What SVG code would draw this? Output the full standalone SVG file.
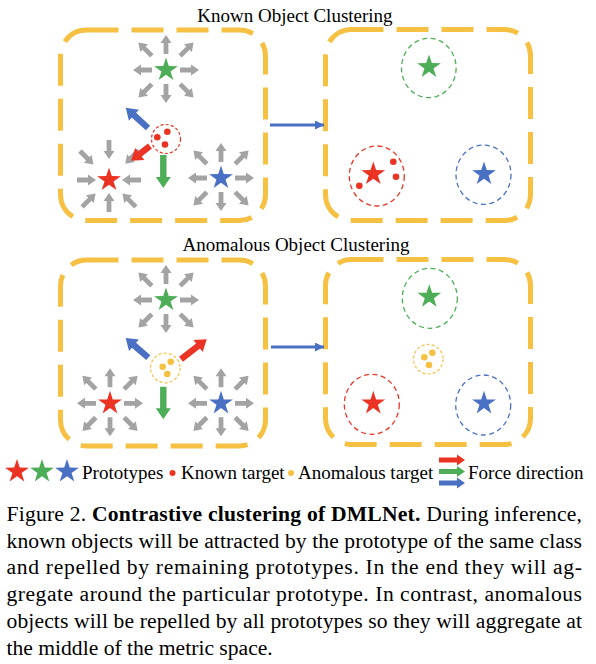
<svg xmlns="http://www.w3.org/2000/svg" xmlns:xlink="http://www.w3.org/1999/xlink" width="596" height="664" viewBox="0 0 596 664">
<style>
.t{font-family:"Liberation Serif","Times New Roman",serif;fill:#000}
.panel{fill:none;stroke:#F6C143;stroke-width:5;stroke-dasharray:32 13}
.ring{fill:none;stroke-width:1.3;stroke-dasharray:5 3.5}
.small{fill:none;stroke-width:1.2;stroke-dasharray:3 2.2}
.r{fill:#EA3323}.g{fill:#4DAE57}.b{fill:#4A70C4}.y{fill:#F6C143}
</style>
<defs>
<path id="star" d="M0,-12.5 L2.81,-3.88 L11.89,-3.86 L4.55,1.48 L7.35,10.11 L0,4.79 L-7.35,10.11 L-4.55,1.48 L-11.89,-3.86 L-2.81,-3.88 Z"/>
<path id="ga" d="M0,-2.4 H11 V-5.5 L19,0 L11,5.5 V2.4 H0 Z" fill="#A3A3A3"/>
<g id="rays-out">
<use href="#ga" transform="rotate(0) translate(14,0)"/>
<use href="#ga" transform="rotate(90) translate(14,0)"/>
<use href="#ga" transform="rotate(180) translate(14,0)"/>
<use href="#ga" transform="rotate(270) translate(16,0)"/>
<use href="#ga" transform="rotate(45) translate(20,0)"/>
<use href="#ga" transform="rotate(135) translate(20,0)"/>
<use href="#ga" transform="rotate(225) translate(20,0)"/>
<use href="#ga" transform="rotate(315) translate(20,0)"/>
</g>
<g id="rays-in">
<use href="#ga" transform="rotate(0) translate(32,0) rotate(180)"/>
<use href="#ga" transform="rotate(90) translate(32,0) rotate(180)"/>
<use href="#ga" transform="rotate(180) translate(32,0) rotate(180)"/>
<use href="#ga" transform="rotate(270) translate(40,0) rotate(180)"/>
<use href="#ga" transform="rotate(45) translate(38,0) rotate(180)"/>
<use href="#ga" transform="rotate(135) translate(38,0) rotate(180)"/>
<use href="#ga" transform="rotate(225) translate(41,0) rotate(180)"/>
<use href="#ga" transform="rotate(315) translate(42,0) rotate(180)"/>
</g>
<marker id="ah" viewBox="0 0 10 10" refX="10" refY="5" markerWidth="9" markerHeight="9" markerUnits="userSpaceOnUse" orient="auto">
<path d="M0,0 L10,5 L0,10 Z" fill="#4A70C4"/>
</marker>
</defs>
<rect width="596" height="664" fill="#fff"/>

<text class="t" x="295" y="22" font-size="19" text-anchor="middle">Known Object Clustering</text>
<text class="t" x="296" y="251" font-size="19" text-anchor="middle">Anomalous Object Clustering</text>

<g id="known-before">
<rect class="panel" x="60.5" y="30" width="205" height="190.5" rx="26"/>
<use href="#rays-out" x="166" y="70"/>
<use href="#star" class="g" x="166" y="70"/>
<use href="#rays-in" x="109" y="180"/>
<use href="#star" class="r" x="109" y="180"/>
<use href="#rays-out" x="221" y="178"/>
<use href="#star" class="b" x="221" y="178"/>
<path class="b" transform="translate(148,128) rotate(-137.7)" d="M0,-3.2 H19 V-7.5 L30,0 L19,7.5 V3.2 H0 Z"/>
<path class="r" transform="translate(150,146) rotate(142)" d="M0,-3.2 H13 V-7.5 L24,0 L13,7.5 V3.2 H0 Z"/>
<path class="g" transform="translate(163.3,155) rotate(90)" d="M0,-3.2 H22 V-7.5 L33,0 L22,7.5 V3.2 H0 Z"/>
<circle class="small" cx="166" cy="139" r="14.5" stroke="#EA3323"/>
<circle class="r" cx="157.3" cy="137.3" r="3.3"/>
<circle class="r" cx="167.3" cy="131.7" r="3.3"/>
<circle class="r" cx="165" cy="144.5" r="3.3"/>
</g>

<g id="known-after">
<rect class="panel" x="325.5" y="29.5" width="205" height="191" rx="26"/>
<ellipse class="ring" cx="428.8" cy="68" rx="27.3" ry="29.7" stroke="#4DAE57"/>
<use href="#star" class="g" x="429" y="67"/>
<ellipse class="ring" cx="376.8" cy="176" rx="27.5" ry="30" stroke="#EA3323"/>
<use href="#star" class="r" x="373.3" y="174"/>
<circle class="r" cx="393.3" cy="161.7" r="3.3"/>
<circle class="r" cx="396" cy="176.7" r="3.3"/>
<circle class="r" cx="359.3" cy="185.7" r="3.3"/>
<ellipse class="ring" cx="483.5" cy="174.7" rx="27.5" ry="29.7" stroke="#4A70C4"/>
<use href="#star" class="b" x="484" y="174"/>
</g>

<g id="anomalous-before">
<rect class="panel" x="60.5" y="260" width="205" height="186" rx="26"/>
<use href="#rays-out" x="166" y="300"/>
<use href="#star" class="g" x="166" y="300"/>
<use href="#rays-out" x="110" y="403.3"/>
<use href="#star" class="r" x="110" y="403.3"/>
<use href="#rays-out" x="221" y="403.3"/>
<use href="#star" class="b" x="221" y="403.3"/>
<path class="b" transform="translate(148.3,357.7) rotate(-139)" d="M0,-3.2 H19 V-7.5 L30,0 L19,7.5 V3.2 H0 Z"/>
<path class="r" transform="translate(181,359.3) rotate(-37.9)" d="M0,-3.2 H21.6 V-7.5 L32.6,0 L21.6,7.5 V3.2 H0 Z"/>
<path class="g" transform="translate(163.3,386.7) rotate(90)" d="M0,-3.2 H21.6 V-7.5 L32.6,0 L21.6,7.5 V3.2 H0 Z"/>
<circle class="small" cx="165.3" cy="368" r="14.8" stroke="#F6C143"/>
<circle class="y" cx="162.7" cy="366.7" r="3.3"/>
<circle class="y" cx="170.7" cy="361.7" r="3.3"/>
<circle class="y" cx="167.3" cy="374" r="3.3"/>
</g>

<g id="anomalous-after">
<rect class="panel" x="325.5" y="259.5" width="205" height="185" rx="26"/>
<ellipse class="ring" cx="429.8" cy="298.3" rx="27.5" ry="30" stroke="#4DAE57"/>
<use href="#star" class="g" x="429.3" y="296.7"/>
<circle class="small" cx="428.3" cy="359.2" r="14.8" stroke="#F6C143"/>
<circle class="y" cx="424.3" cy="357.3" r="3.3"/>
<circle class="y" cx="432.3" cy="352.7" r="3.3"/>
<circle class="y" cx="429" cy="365" r="3.3"/>
<ellipse class="ring" cx="371.8" cy="404.3" rx="27.5" ry="30" stroke="#EA3323"/>
<use href="#star" class="r" x="373.3" y="403.3"/>
<ellipse class="ring" cx="483.2" cy="405" rx="27.5" ry="30" stroke="#4A70C4"/>
<use href="#star" class="b" x="484" y="403.3"/>
</g>

<g id="connectors" stroke="#4A70C4" stroke-width="3" fill="none">
<line x1="270" y1="125" x2="324" y2="125" marker-end="url(#ah)"/>
<line x1="271" y1="347" x2="324" y2="347" marker-end="url(#ah)"/>
</g>

<g id="legend">
<use href="#star" class="r" x="17" y="471.5"/>
<use href="#star" class="g" x="42" y="471.5"/>
<use href="#star" class="b" x="67" y="471.5"/>
<text class="t" x="82" y="479" font-size="19">Prototypes</text>
<circle class="r" cx="172.5" cy="473" r="3"/>
<text class="t" x="181" y="479" font-size="19">Known target</text>
<circle class="y" cx="291" cy="473" r="3"/>
<text class="t" x="298" y="479" font-size="19">Anomalous target</text>
<path class="r" transform="translate(439,460)" d="M0,-2.5 H18 V-5.5 L26,0 L18,5.5 V2.5 H0 Z"/>
<path class="g" transform="translate(439,471.5)" d="M0,-2.5 H18 V-5.5 L26,0 L18,5.5 V2.5 H0 Z"/>
<path class="b" transform="translate(439,483)" d="M0,-2.5 H18 V-5.5 L26,0 L18,5.5 V2.5 H0 Z"/>
<text class="t" x="468" y="479" font-size="19">Force direction</text>
</g>

<g id="caption" font-size="21.6">
<text class="t" x="6.5" y="521" textLength="575.5" lengthAdjust="spacing">Figure 2. <tspan font-weight="bold">Contrastive clustering of DMLNet.</tspan> During inference,</text>
<text class="t" x="6.5" y="547.7" textLength="575.5" lengthAdjust="spacing">known objects will be attracted by the prototype of the same class</text>
<text class="t" x="6.5" y="574.4" textLength="575.5" lengthAdjust="spacing">and repelled by remaining prototypes.  In the end they will ag-</text>
<text class="t" x="6.5" y="601.1" textLength="575.5" lengthAdjust="spacing">gregate around the particular prototype.  In contrast, anomalous</text>
<text class="t" x="6.5" y="627.8" textLength="575.5" lengthAdjust="spacing">objects will be repelled by all prototypes so they will aggregate at</text>
<text class="t" x="6.5" y="654.5">the middle of the metric space.</text>
</g>
</svg>
